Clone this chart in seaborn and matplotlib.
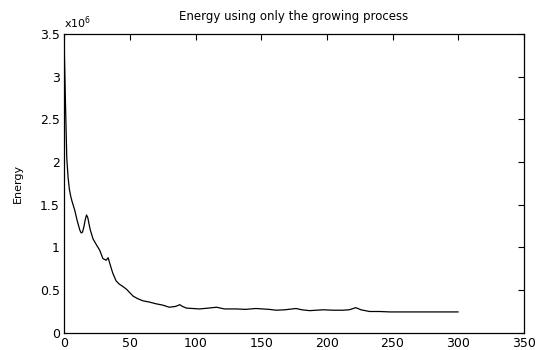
import matplotlib
matplotlib.use("Agg")
import matplotlib.pyplot as plt
import matplotlib.ticker as mticker
import pandas as pd
import seaborn as sns

# values
iterations = [0, 1, 2, 3, 4, 5, 6, 8, 10, 12, 13, 14, 15, 16, 17, 18, 19, 20,
              22, 25, 27, 29.5, 32, 33.5, 35, 37, 39.5, 42, 45, 47.5, 50, 52.5,
              56, 60, 65, 70, 75, 80, 85, 88, 90, 93, 98, 103, 110, 116, 122,
              131, 138, 146, 151, 156, 161.5, 168, 176.5, 181, 187, 192, 197,
              205, 212, 217, 222, 226, 232.5, 240, 248, 260, 270, 280, 293, 300]
energy = [3.40e6, 2.70e6, 2.05e6, 1.82e6, 1.68e6, 1.60e6, 1.54e6, 1.44e6,
          1.31e6, 1.20e6, 1.17e6, 1.18e6, 1.24e6, 1.32e6, 1.38e6, 1.35e6,
          1.27e6, 1.20e6, 1.10e6, 1.02e6, 0.97e6, 0.87e6, 0.85e6, 0.88e6,
          0.80e6, 0.70e6, 0.61e6, 0.57e6, 0.54e6, 0.51e6, 0.47e6, 0.43e6,
          0.40e6, 0.375e6, 0.36e6, 0.34e6, 0.325e6, 0.30e6, 0.31e6, 0.33e6,
          0.31e6, 0.29e6, 0.285e6, 0.28e6, 0.29e6, 0.30e6, 0.28e6, 0.28e6,
          0.275e6, 0.285e6, 0.28e6, 0.275e6, 0.265e6, 0.27e6, 0.285e6, 0.27e6,
          0.26e6, 0.265e6, 0.27e6, 0.265e6, 0.265e6, 0.27e6, 0.295e6, 0.27e6,
          0.25e6, 0.25e6, 0.245e6, 0.245e6, 0.245e6, 0.245e6, 0.245e6, 0.245e6]

xticks = [0, 50, 100, 150, 200, 250, 300, 350]
yticks = [0, 0.5e6, 1e6, 1.5e6, 2e6, 2.5e6, 3e6, 3.5e6]

df = pd.DataFrame({"iteration": iterations, "energy": energy})

sns.set_style("white")
plt.rcParams["font.family"] = ["DejaVu Sans"]
plt.rcParams["text.color"] = "black"

fig = plt.figure(figsize=(5.39, 3.5), dpi=100)
ax = fig.add_axes([0.119, 0.049, 0.853, 0.854])

sns.lineplot(data=df, x="iteration", y="energy", color="black", linewidth=0.9, ax=ax)

ax.set_xlim(0, 350)
ax.set_ylim(0, 3.5e6)
ax.set_xticks(xticks)
ax.set_yticks(yticks)
ax.yaxis.set_major_formatter(mticker.FuncFormatter(lambda v, p: f"{v / 1e6:g}"))
ax.tick_params(direction="in", length=4, width=0.8, top=True, right=True,
               labelsize=9, colors="black", pad=3)

for s in ax.spines.values():
    s.set_color("black")
    s.set_linewidth(0.9)

ax.text(0.0, 1.01, r"x10$^6$", transform=ax.transAxes, fontsize=8, va="bottom", ha="left")
ax.set_title("Energy using only the growing process", fontsize=8.5, pad=10, color="black")
ax.set_ylabel("Energy", fontsize=8, labelpad=12, color="black")
ax.set_xlabel("")

fig.savefig("out.png", dpi=100)
